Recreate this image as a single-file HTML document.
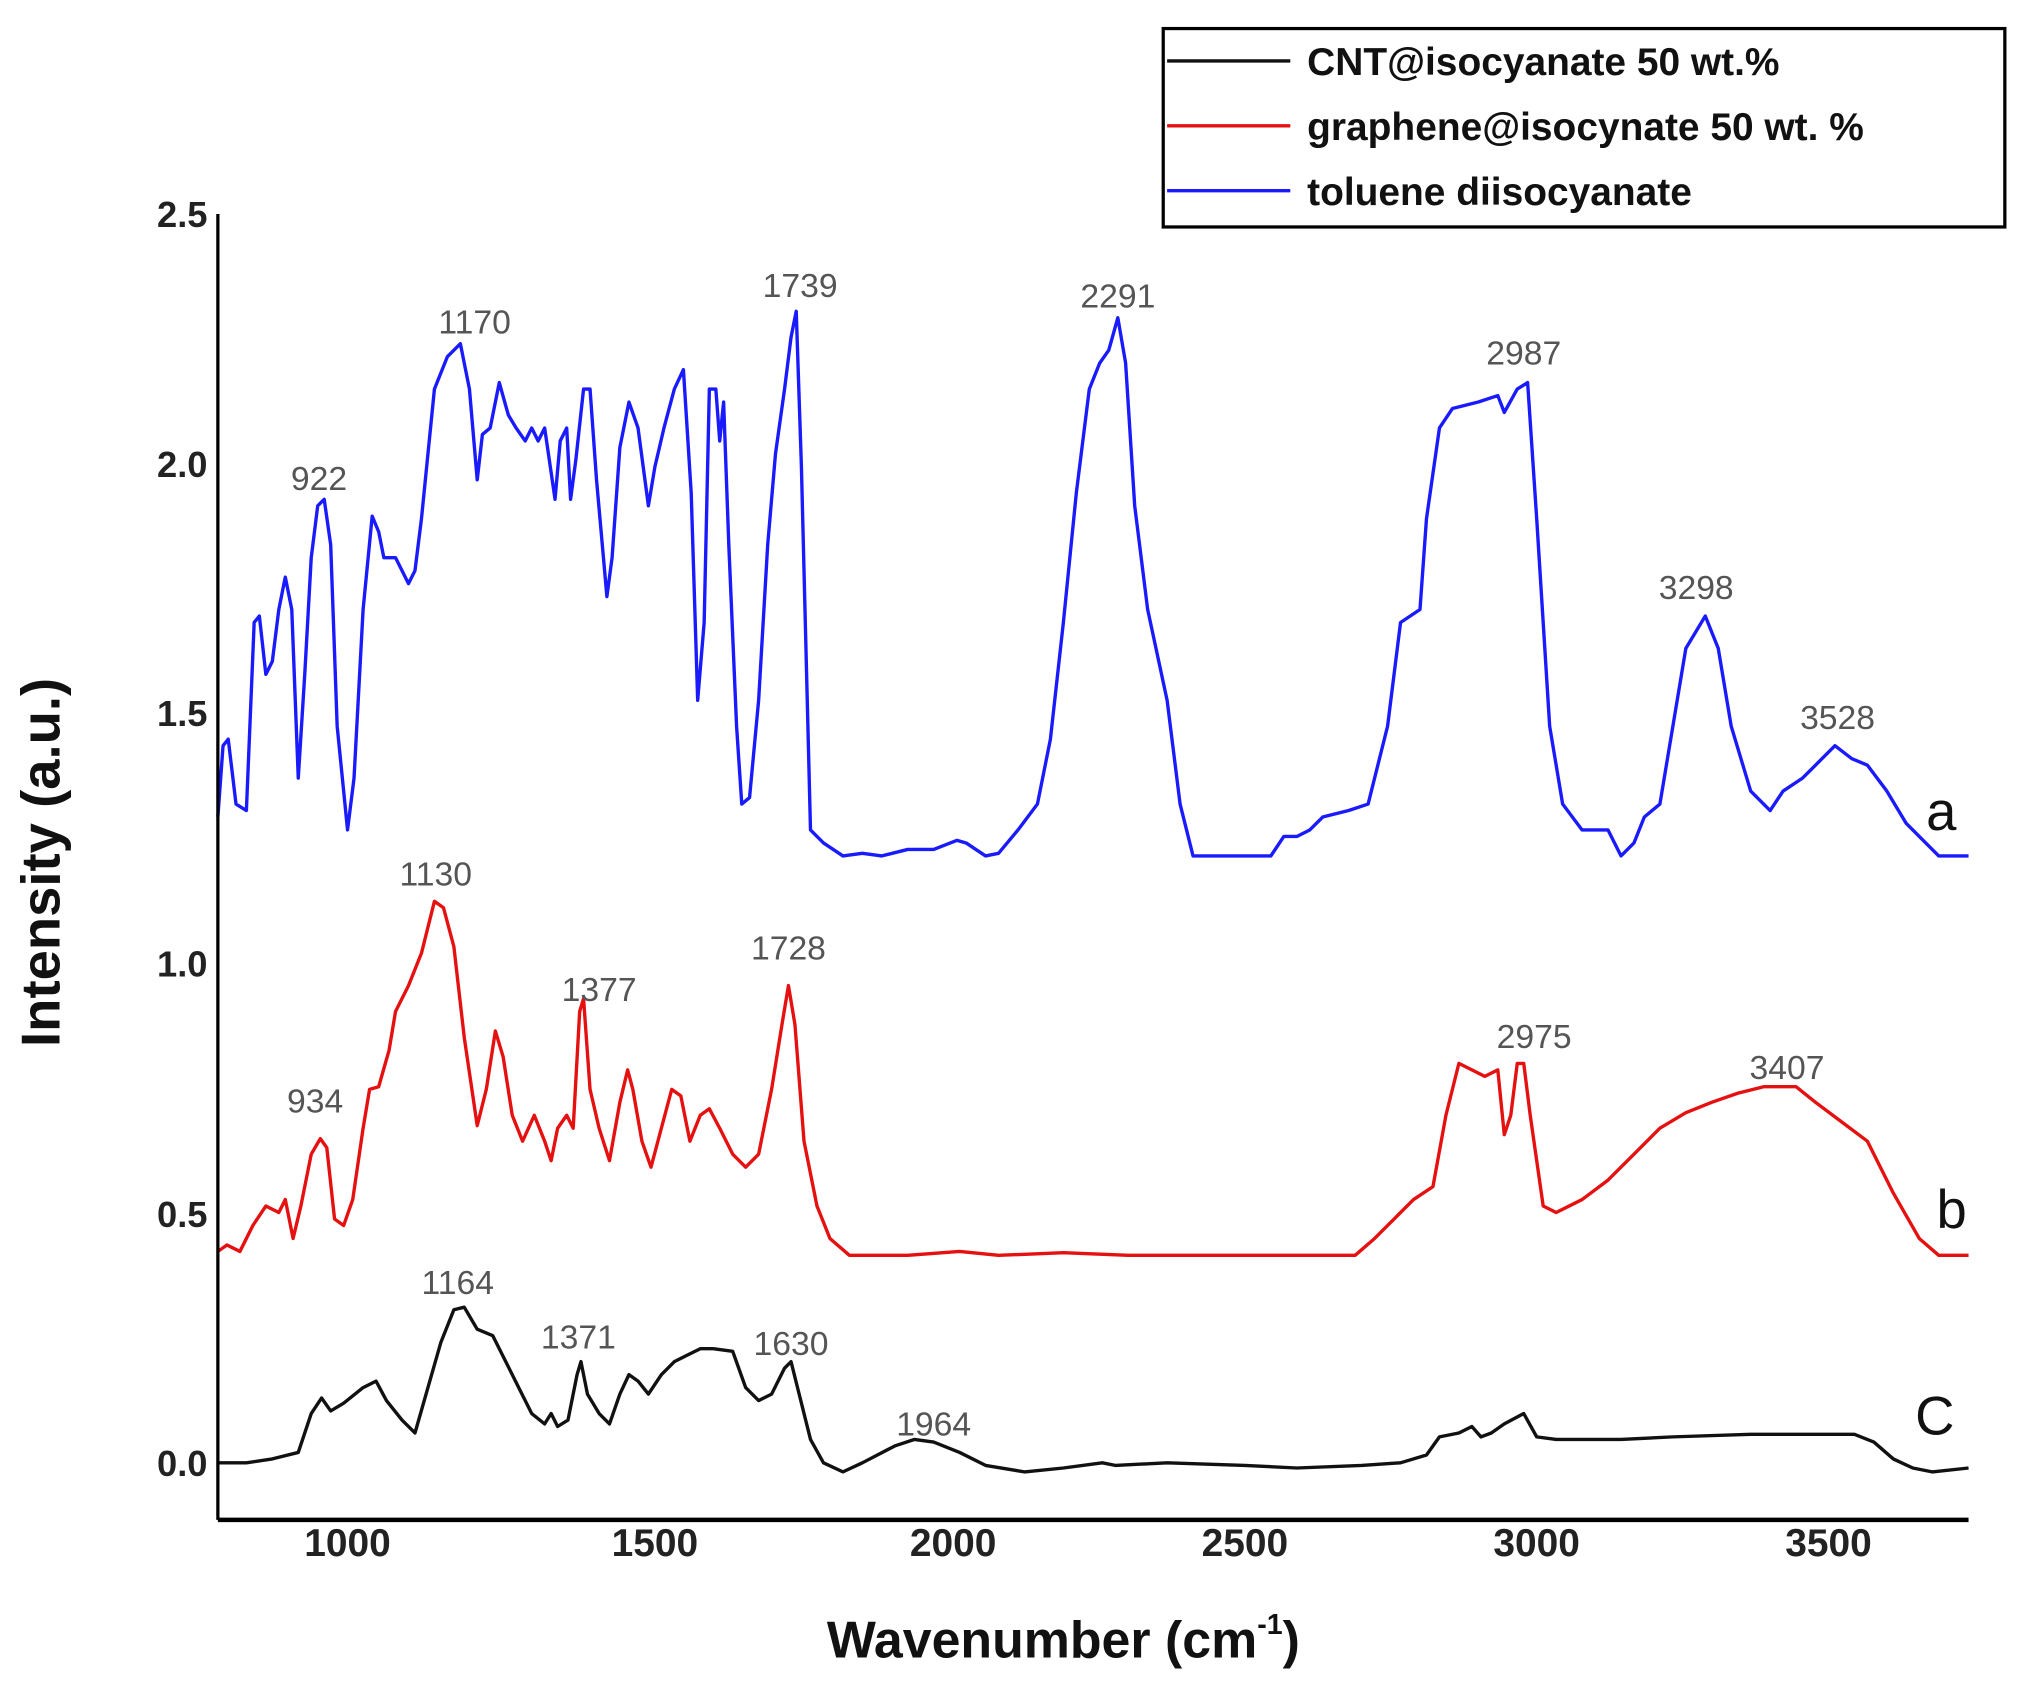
<!DOCTYPE html>
<html><head><meta charset="utf-8"><style>html,body{margin:0;padding:0;background:#fff}svg{display:block}</style></head>
<body>
<svg width="2023" height="1682" viewBox="0 0 1560 1297" xmlns="http://www.w3.org/2000/svg" font-family="Liberation Sans, sans-serif">
<rect width="1560" height="1297" fill="#fff"/>
<g fill="none" stroke-width="2.6" stroke-linejoin="round">
<polyline stroke="#1a1aff" points="168,630 172,575 176,570 182,620 190,625 196,480 200,475 205,520 210,510 215,470 220,445 225,470 230,600 235,520 240,430 245,390 250,385 255,420 260,560 268,640 273,600 280,470 287,398 292,410 296,430 305,430 315,450 320,440 325,400 335,300 345,275 355,265 362,300 368,370 372,335 378,330 385,295 392,320 398,330 405,340 410,330 415,340 420,330 428,385 432,340 437,330 440,385 444,355 450,300 455,300 460,370 468,460 472,430 478,345 485,310 492,330 500,390 505,360 512,330 520,300 527,285 533,380 538,540 543,480 547,300 552,300 555,340 558,310 562,420 568,560 572,620 578,615 585,540 592,420 598,350 605,300 610,260 614,240 618,360 625,640 635,650 650,660 665,658 680,660 700,655 720,655 738,648 745,650 760,660 770,658 785,640 800,620 810,570 820,480 830,380 840,300 848,280 855,270 862,245 868,280 875,390 885,470 900,540 910,620 920,660 940,660 980,660 990,645 1000,645 1010,640 1020,630 1040,625 1055,620 1070,560 1080,480 1095,470 1100,400 1110,330 1120,315 1140,310 1155,305 1160,318 1170,300 1178,295 1185,400 1195,560 1205,620 1220,640 1240,640 1250,660 1260,650 1268,630 1280,620 1290,560 1300,500 1315,475 1325,500 1335,560 1350,610 1365,625 1375,610 1390,600 1400,590 1415,575 1428,585 1440,590 1455,610 1470,635 1485,650 1495,660 1518,660"/>
<polyline stroke="#e51010" points="168,965 175,960 185,965 195,945 205,930 215,935 220,925 226,955 232,930 240,890 247,878 252,885 258,940 265,945 272,925 280,870 285,840 292,838 300,810 305,780 315,760 325,735 335,695 342,700 350,730 358,800 368,868 375,840 382,795 388,815 395,860 403,880 412,860 420,880 425,895 430,870 437,860 442,870 447,780 450,770 455,840 462,870 470,895 478,850 484,825 488,840 495,880 502,900 510,870 518,840 525,845 532,880 540,860 547,855 555,870 565,890 575,900 585,890 595,840 603,790 608,760 613,790 620,880 630,930 640,955 655,968 700,968 740,965 770,968 820,966 870,968 1000,968 1045,968 1060,955 1075,940 1090,925 1105,915 1115,860 1125,820 1135,825 1145,830 1155,825 1160,875 1165,860 1170,820 1175,820 1180,860 1190,930 1200,935 1220,925 1240,910 1260,890 1280,870 1300,858 1320,850 1340,843 1360,838 1385,838 1400,850 1420,865 1440,880 1460,920 1480,955 1495,968 1518,968"/>
<polyline stroke="#111" points="168,1128 190,1128 210,1125 230,1120 240,1090 248,1078 255,1088 265,1082 280,1070 290,1065 298,1080 310,1095 320,1105 330,1070 340,1035 350,1010 358,1008 368,1025 380,1030 390,1050 400,1070 410,1090 420,1098 425,1090 430,1100 438,1095 445,1060 448,1050 453,1075 462,1090 470,1098 478,1075 485,1060 492,1065 500,1075 510,1060 520,1050 530,1045 540,1040 550,1040 565,1042 575,1070 585,1080 595,1075 605,1055 610,1050 615,1070 625,1110 635,1128 650,1135 665,1128 690,1115 705,1110 720,1112 740,1120 760,1130 790,1135 820,1132 850,1128 860,1130 900,1128 960,1130 1000,1132 1050,1130 1080,1128 1100,1122 1110,1108 1125,1105 1135,1100 1142,1108 1150,1105 1160,1098 1175,1090 1185,1108 1200,1110 1250,1110 1290,1108 1350,1106 1430,1106 1445,1112 1460,1125 1475,1132 1490,1135 1518,1132"/>
</g>
<g stroke="#000">
<line x1="168" y1="165" x2="168" y2="1172" stroke-width="2.5"/>
<line x1="168" y1="1172" x2="1518" y2="1172" stroke-width="3.5"/>
</g>
<g font-size="28" font-weight="bold" fill="#222" text-anchor="end">
<text x="160" y="175">2.5</text><text x="160" y="368">2.0</text><text x="160" y="560">1.5</text>
<text x="160" y="753">1.0</text><text x="160" y="946">0.5</text><text x="160" y="1138">0.0</text>
</g>
<g font-size="30" font-weight="bold" fill="#222" text-anchor="middle">
<text x="268" y="1200">1000</text><text x="505" y="1200">1500</text><text x="735" y="1200">2000</text>
<text x="960" y="1200">2500</text><text x="1185" y="1200">3000</text><text x="1410" y="1200">3500</text>
</g>
<text x="820" y="1278" font-size="40" font-weight="bold" text-anchor="middle" fill="#111">Wavenumber (cm<tspan dy="-18" font-size="22">-1</tspan><tspan dy="18">)</tspan></text>
<text transform="translate(46,665) rotate(-90)" font-size="42" font-weight="bold" text-anchor="middle" fill="#111">Intensity (a.u.)</text>
<g font-size="26" fill="#555" text-anchor="middle">
<text x="246" y="378">922</text><text x="366" y="257">1170</text><text x="617" y="229">1739</text>
<text x="862" y="237">2291</text><text x="1175" y="281">2987</text><text x="1308" y="462">3298</text>
<text x="1417" y="562">3528</text><text x="336" y="683">1130</text><text x="462" y="772">1377</text>
<text x="608" y="740">1728</text><text x="243" y="858">934</text><text x="1183" y="808">2975</text>
<text x="1378" y="832">3407</text><text x="353" y="998">1164</text><text x="446" y="1040">1371</text>
<text x="610" y="1045">1630</text><text x="720" y="1107">1964</text>
</g>
<g font-size="42" fill="#111" text-anchor="middle">
<text x="1497" y="640">a</text><text x="1505" y="947">b</text><text x="1492" y="1106">C</text>
</g>
<rect x="897" y="22" width="649" height="153" fill="#fff" stroke="#000" stroke-width="2.5"/>
<line x1="900" y1="47" x2="995" y2="47" stroke="#111" stroke-width="2.6"/>
<line x1="900" y1="97" x2="995" y2="97" stroke="#e51010" stroke-width="2.6"/>
<line x1="900" y1="147" x2="995" y2="147" stroke="#1a1aff" stroke-width="2.6"/>
<g font-size="30" font-weight="bold" fill="#111">
<text x="1008" y="58">CNT@isocyanate 50 wt.%</text>
<text x="1008" y="108">graphene@isocynate 50 wt. %</text>
<text x="1008" y="158">toluene diisocyanate</text>
</g>
</svg>
</body></html>
